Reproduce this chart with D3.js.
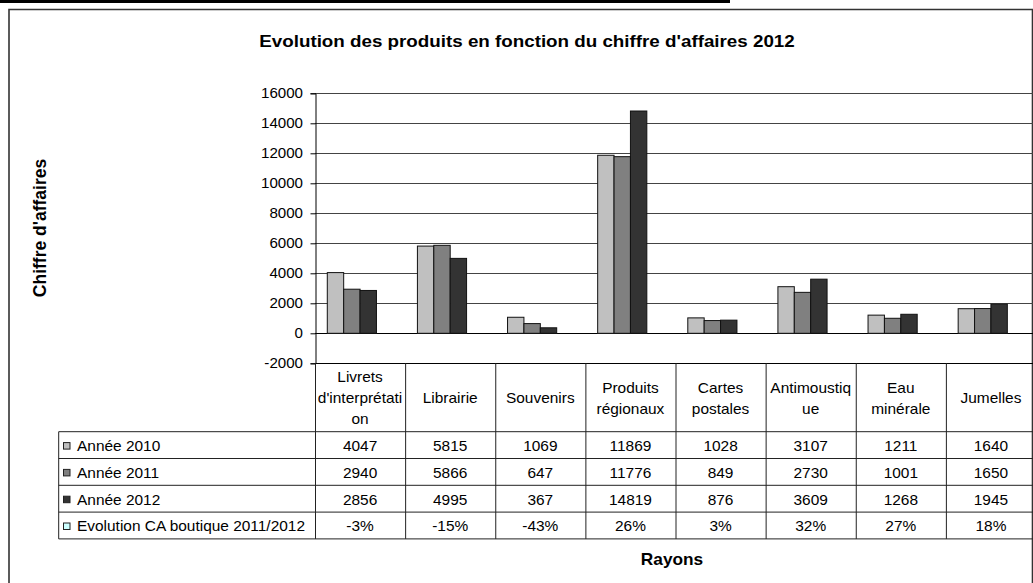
<!DOCTYPE html>
<html>
<head>
<meta charset="utf-8">
<script src="https://cdn.jsdelivr.net/npm/d3@7"></script>
<style>
  html, body { margin: 0; padding: 0; background: #fff; }
  svg { display: block; font-family: "Liberation Sans", Arial, sans-serif; }
</style>
</head>
<body>
<svg id="chart" width="1033" height="583"></svg>
<script>
// Rayons (categories) and the wrapped header lines shown in the data table
const categories = ["Livrets d'interprétation", "Librairie", "Souvenirs", "Produits régionaux",
                    "Cartes postales", "Antimoustique", "Eau minérale", "Jumelles"];
const headerLines = [["Livrets", "d'interprétati", "on"], ["Librairie"], ["Souvenirs"],
                     ["Produits", "régionaux"], ["Cartes", "postales"], ["Antimoustiq", "ue"],
                     ["Eau", "minérale"], ["Jumelles"]];

// Chiffre d'affaires per year
const ca2010 = [4047, 5815, 1069, 11869, 1028, 3107, 1211, 1640];
const ca2011 = [2940, 5866, 647, 11776, 849, 2730, 1001, 1650];
const ca2012 = [2856, 4995, 367, 14819, 876, 3609, 1268, 1945];
// Evolution 2011/2012 (ratio), plotted as a fourth series
const evolution = [-0.03, -0.15, -0.43, 0.26, 0.03, 0.32, 0.27, 0.18];

const seriesNames = ["Année 2010", "Année 2011", "Année 2012", "Evolution CA boutique 2011/2012"];
const seriesColors = ["#c0c0c0", "#808080", "#333333", "#ccffff"];
const yTicks = [-2000, 0, 2000, 4000, 6000, 8000, 10000, 12000, 14000, 16000];

const series = [ca2010, ca2011, ca2012, evolution];
const fmtValue = (si, v) => si === 3 ? Math.round(v * 100) + "%" : String(v);

const svg = d3.select("#chart");
const SX = 1.08; // horizontal text widening

function label(parent, txt, x, y, opts = {}) {
  return parent.append("text")
    .attr("transform", `translate(${x},${y}) scale(${opts.sx ?? SX},1)`)
    .attr("text-anchor", opts.anchor || "middle")
    .attr("dominant-baseline", "central")
    .attr("font-size", opts.size || 14.3)
    .attr("font-weight", opts.weight || "normal")
    .attr("fill", "#000")
    .text(txt);
}

// Outer frame and top rule
svg.append("rect").attr("x", 0).attr("y", 0).attr("width", 730).attr("height", 3).attr("fill", "#000");
svg.append("path").attr("d", "M9,600 V9.5 H1032.5 V600")
  .attr("fill", "none").attr("stroke", "#333").attr("stroke-width", 1.6);

// Scales
const plotLeft = 315, plotRight = 1036, plotTop = 93.3, plotBottom = 363.3;
const y = d3.scaleLinear().domain([-2000, 16000]).range([plotBottom, plotTop]);
const x = d3.scaleBand().domain(categories).range([plotLeft, plotRight]).padding(0);
const bw = x.bandwidth() / 5.5; // gap width 150 %
const xs = d3.scaleBand().domain(d3.range(4)).range([0.75 * bw, 4.75 * bw]).padding(0);

// Gridlines
svg.append("g").selectAll("line").data(yTicks).join("line")
  .attr("x1", plotLeft).attr("x2", plotRight)
  .attr("y1", d => Math.round(y(d)) + 0.5).attr("y2", d => Math.round(y(d)) + 0.5)
  .attr("stroke", d => d === 0 || d === -2000 ? "#000" : "#444").attr("stroke-width", 1);

// Y axis
const yAxis = d3.axisLeft(y).tickValues(yTicks).tickSize(5).tickPadding(8).tickFormat(d => String(d));
const gy = svg.append("g").attr("transform", `translate(${plotLeft + 0.5},0)`).call(yAxis);
gy.select(".domain").attr("stroke", "#000");
gy.selectAll(".tick line").attr("stroke", "#000");
gy.selectAll(".tick text").attr("font-size", 14).attr("font-family", "Liberation Sans, Arial, sans-serif")
  .attr("fill", "#000")
  .attr("transform", `scale(${SX},1)`)
  .attr("x", -12.5 / SX);

// Bars
const gBars = svg.append("g");
series.forEach((vals, si) => {
  gBars.selectAll(`rect.s${si}`).data(vals).join("rect")
    .attr("class", `s${si}`)
    .attr("x", (d, i) => x(categories[i]) + xs(si))
    .attr("width", xs.bandwidth())
    .attr("y", d => y(Math.max(0, d)))
    .attr("height", d => Math.abs(y(d) - y(0)))
    .attr("fill", seriesColors[si])
    .attr("stroke", si === 3 ? "none" : "#111")
    .attr("stroke-width", 1);
});

// Data table
const tableLeft = 58.7, headerBottom = 431.7, rowH = 26.8;
const tableBottom = headerBottom + rowH * 4;
const gt = svg.append("g");
// horizontal rules
d3.range(5).forEach(r => {
  const yy = headerBottom + r * rowH;
  gt.append("line").attr("x1", tableLeft).attr("x2", plotRight).attr("y1", yy).attr("y2", yy)
    .attr("stroke", "#222").attr("stroke-width", 1);
});
// vertical rules
gt.append("line").attr("x1", tableLeft).attr("x2", tableLeft).attr("y1", headerBottom).attr("y2", tableBottom)
  .attr("stroke", "#222");
categories.concat([null]).forEach(c => {
  const xx = c === null ? plotRight : x(c);
  gt.append("line").attr("x1", xx + 0.5).attr("x2", xx + 0.5).attr("y1", plotBottom).attr("y2", tableBottom)
    .attr("stroke", "#222");
});
// header labels
categories.forEach((c, i) => {
  const lines = headerLines[i];
  const cx = x(c) + x.bandwidth() / 2;
  const mid = (plotBottom + headerBottom) / 2 + 1;
  lines.forEach((ln, k) => {
    label(gt, ln, cx, mid + (k - (lines.length - 1) / 2) * 21);
  });
});
// series rows
series.forEach((vals, si) => {
  const cy = headerBottom + si * rowH + rowH / 2 + 1;
  gt.append("rect").attr("x", 63.5).attr("y", cy - 3.5).attr("width", 6.5).attr("height", 6.5)
    .attr("fill", seriesColors[si]).attr("stroke", "#222").attr("stroke-width", 1);
  label(gt, seriesNames[si], 77, cy, { anchor: "start" });
  vals.forEach((v, i) => {
    label(gt, fmtValue(si, v), x(categories[i]) + x.bandwidth() / 2, cy);
  });
});

// Titles
label(svg, "Evolution des produits en fonction du chiffre d'affaires 2012", 527, 41, { size: 17.4, weight: "bold" });
label(svg, "Rayons", 672, 560, { size: 16, weight: "bold" });
svg.append("text")
  .attr("transform", "translate(40,228) rotate(-90)")
  .attr("text-anchor", "middle").attr("dominant-baseline", "central")
  .attr("font-size", 17.5).attr("font-weight", "bold").text("Chiffre d'affaires");
</script>
</body>
</html>
